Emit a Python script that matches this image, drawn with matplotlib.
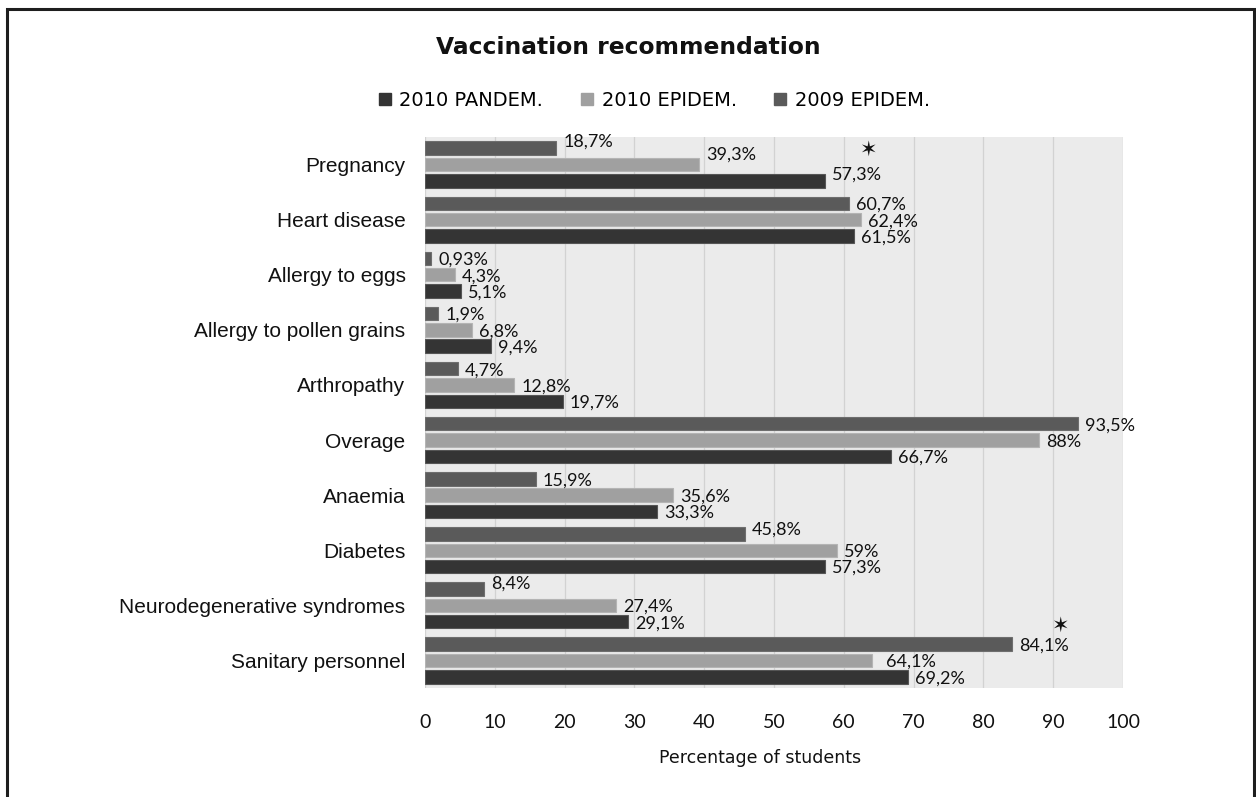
import numpy as np
import matplotlib
matplotlib.use("Agg")
import matplotlib.pyplot as plt
from matplotlib.lines import Line2D
from matplotlib.patches import Rectangle

# ---------------- data ----------------
categories = ["Pregnancy", "Heart disease", "Allergy to eggs", "Allergy to pollen grains",
              "Arthropathy", "Overage", "Anaemia", "Diabetes",
              "Neurodegenerative syndromes", "Sanitary personnel"]
series_names = ["2010 PANDEM.", "2010 EPIDEM.", "2009 EPIDEM."]
pandem_2010 = [57.3, 61.5, 5.1, 9.4, 19.7, 66.7, 33.3, 57.3, 29.1, 69.2]
epidem_2010 = [39.3, 62.4, 4.3, 6.8, 12.8, 88.0, 35.6, 59.0, 27.4, 64.1]
epidem_2009 = [18.7, 60.7, 0.93, 1.9, 4.7, 93.5, 15.9, 45.8, 8.4, 84.1]
labels_pandem_2010 = ["57,3%", "61,5%", "5,1%", "9,4%", "19,7%", "66,7%", "33,3%", "57,3%", "29,1%", "69,2%"]
labels_epidem_2010 = ["39,3%", "62,4%", "4,3%", "6,8%", "12,8%", "88%", "35,6%", "59%", "27,4%", "64,1%"]
labels_epidem_2009 = ["18,7%", "60,7%", "0,93%", "1,9%", "4,7%", "93,5%", "15,9%", "45,8%", "8,4%", "84,1%"]
x_ticks = [0, 10, 20, 30, 40, 50, 60, 70, 80, 90, 100]
title = "Vaccination recommendation"
x_label = "Percentage of students"
star_categories = ["Pregnancy", "Sanitary personnel"]

# ---------------- style / layout ----------------
W, H = 1256, 797
colors = {"2010 PANDEM.": "#343434", "2010 EPIDEM.": "#a0a0a0", "2009 EPIDEM.": "#5a5a5a"}
edge = {"2010 PANDEM.": "#555555", "2010 EPIDEM.": "#b4b4b4", "2009 EPIDEM.": "#6e6e6e"}
bar_step = 0.296
bar_h = 0.245
# label pixel offsets (dx, dy) for special placements: (series, category index) -> (dx, dy)
label_offsets = {
    ("2009 EPIDEM.", 0): (8, -8), ("2010 EPIDEM.", 0): (7, -11), ("2010 PANDEM.", 0): (7, -8),
    ("2009 EPIDEM.", 7): (7, -6), ("2009 EPIDEM.", 8): (7, -7), ("2010 EPIDEM.", 9): (14, 0),
}
star_pos = {"Pregnancy": (63.5, -0.265), "Sanitary personnel": (90.9, -0.63)}

fig = plt.figure(figsize=(W / 100, H / 100), dpi=100)
fig.patch.set_facecolor("white")
ax = fig.add_axes([425 / W, 1 - 688 / H, (1123 - 425) / W, (688 - 137) / H])
ax.set_facecolor("#ebebeb")

y = np.arange(len(categories))
series = [("2009 EPIDEM.", epidem_2009, labels_epidem_2009, -bar_step),
          ("2010 EPIDEM.", epidem_2010, labels_epidem_2010, 0.0),
          ("2010 PANDEM.", pandem_2010, labels_pandem_2010, bar_step)]

for name, vals, labs, off in series:
    ax.barh(y + off, vals, height=bar_h, color=colors[name], edgecolor=edge[name],
            linewidth=0.8, zorder=3)
    for i, (v, lab) in enumerate(zip(vals, labs)):
        dx, dy = label_offsets.get((name, i), (7, 0))
        ax.annotate(lab, xy=(v, y[i] + off), xytext=(dx * 0.72, -dy * 0.72),
                    textcoords="offset points", ha="left", va="center_baseline",
                    fontsize=13, family="Lato", color="#111111", zorder=5)

for cat in star_categories:
    sx, sdy = star_pos[cat]
    ax.text(sx, categories.index(cat) + sdy, "\u2736", ha="center", va="center",
            fontsize=15, family="DejaVu Sans", color="#111111", zorder=6)

ax.set_xlim(0, 100)
ax.set_ylim(len(categories) - 0.5, -0.5)
ax.set_xticks(x_ticks)
ax.set_xticklabels([str(t) for t in x_ticks], fontsize=14, family="Lato", color="#111111")
ax.set_yticks(y)
ax.set_yticklabels(categories, fontsize=15, family="Liberation Sans", color="#111111")
ax.tick_params(axis="x", length=0, pad=19)
ax.tick_params(axis="y", length=0, pad=14)
ax.grid(axis="x", color="#d2d2d2", linewidth=0.9, zorder=0)
ax.set_axisbelow(True)
for s in ax.spines.values():
    s.set_visible(False)

ax.set_xlabel(x_label, fontsize=12.5, family="DejaVu Sans", color="#111111")
ax.xaxis.set_label_coords((760 - 425) / (1123 - 425), -(749 - 688) / (688 - 137))

fig.text(0.5, 1 - 48 / H, title, ha="center", va="center", fontsize=16.8,
         fontweight="bold", family="DejaVu Sans", color="#111111")

handles = [Line2D([], [], linestyle="none", marker="s", markersize=9,
                  markerfacecolor=colors[n], markeredgecolor=colors[n]) for n in series_names]
fig.legend(handles, series_names, loc="center", bbox_to_anchor=(654 / W, 1 - 100 / H),
           ncol=3, frameon=False, handlelength=0.7, handletextpad=0.4,
           columnspacing=1.9, prop={"family": "DejaVu Sans", "size": 14})

fig.add_artist(Rectangle((7 / W, -0.05), (1253.5 - 7) / W, 1.05 - 9.5 / H,
                         transform=fig.transFigure, fill=False, linewidth=2.2,
                         edgecolor="#1e1e1e"))

fig.savefig("out.png", dpi=100, facecolor="white")
